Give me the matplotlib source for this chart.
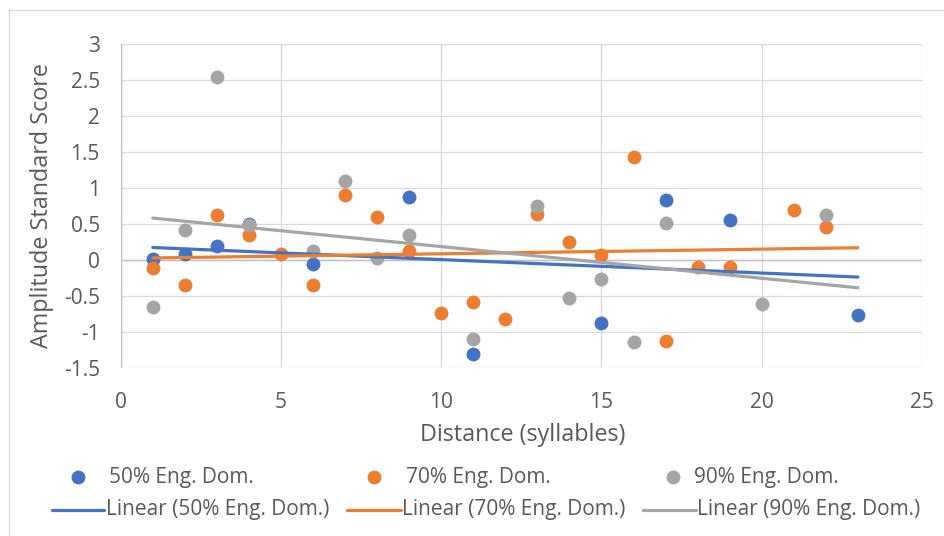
import numpy as np
import matplotlib
matplotlib.use("Agg")
import matplotlib.pyplot as plt
from matplotlib.lines import Line2D

# Distance (syllables) and amplitude standard scores per group
x_50 = [1, 2, 3, 4, 6, 9, 11, 15, 17, 19, 23]
y_50 = [0.01, 0.08, 0.20, 0.50, -0.05, 0.88, -1.30, -0.88, 0.83, 0.56, -0.77]

x_70 = [1, 2, 3, 4, 5, 6, 7, 8, 9, 10, 11, 12, 13, 14, 15, 16, 17, 18, 19, 21, 22]
y_70 = [-0.11, -0.35, 0.63, 0.35, 0.08, -0.35, 0.90, 0.60, 0.13, -0.73, -0.58,
        -0.82, 0.64, 0.25, 0.07, 1.43, -1.13, -0.10, -0.10, 0.69, 0.46]

x_90 = [1, 2, 3, 4, 6, 7, 8, 9, 11, 13, 14, 15, 16, 17, 20, 22]
y_90 = [-0.65, 0.42, 2.54, 0.49, 0.12, 1.10, 0.03, 0.35, -1.10, 0.75, -0.53,
        -0.27, -1.14, 0.51, -0.61, 0.62]

labels = ["50% Eng. Dom.", "70% Eng. Dom.", "90% Eng. Dom."]
colors = ["#4472C4", "#ED7D31", "#A5A5A5"]
trend_span = (1, 23)

x_ticks = [0, 5, 10, 15, 20, 25]
y_ticks = [-1.5, -1, -0.5, 0, 0.5, 1, 1.5, 2, 2.5, 3]
y_tick_labels = ["-1.5", "-1", "-0.5", "0", "0.5", "1", "1.5", "2", "2.5", "3"]

FONT = "Open Sans"
TXT = "#595959"
W, H = 945, 536
SMALL = 15
TITLE = 16.8

fig = plt.figure(figsize=(W / 100, H / 100), dpi=100)
fig.patch.set_facecolor("white")

# chart area border (left and top edges)
fig.add_artist(Line2D([9.5 / W, 9.5 / W], [0, 1 - 9.5 / H], transform=fig.transFigure,
                      color="#D9D9D9", lw=1.0))
fig.add_artist(Line2D([9.5 / W, 1], [1 - 9.5 / H, 1 - 9.5 / H], transform=fig.transFigure,
                      color="#D9D9D9", lw=1.0))

left, right = 120.7 / W, 922 / W
bottom, top = 1 - 368 / H, 1 - 44 / H
ax = fig.add_axes([left, bottom, right - left, top - bottom])
ax.set_xlim(0, 25)
ax.set_ylim(-1.5, 3)

for s in ax.spines.values():
    s.set_visible(False)

for t in x_ticks:
    ax.axvline(t, color="#D9D9D9", lw=0.9, zorder=0)
for t in y_ticks:
    ax.axhline(t, color="#D9D9D9", lw=0.9, zorder=0)
ax.axhline(0, color="#BFBFBF", lw=1.0, zorder=0.5)
ax.axvline(0, color="#BFBFBF", lw=1.0, zorder=0.5)

ax.set_xticks(x_ticks)
ax.set_xticklabels([str(t) for t in x_ticks])
ax.set_yticks(y_ticks)
ax.set_yticklabels(y_tick_labels)
ax.tick_params(length=0, labelsize=SMALL, labelcolor=TXT)
ax.tick_params(axis="y", pad=15)
ax.tick_params(axis="x", pad=17)
for lab in ax.get_xticklabels() + ax.get_yticklabels():
    lab.set_fontfamily(FONT)

series = [(x_50, y_50), (x_70, y_70), (x_90, y_90)]
for (xs, ys), c in zip(series, colors):
    ax.scatter(xs, ys, s=100, color=c, linewidths=0, zorder=2)

# least-squares linear trendlines
for (xs, ys), c in zip(series, colors):
    slope, intercept = np.polyfit(xs, ys, 1)
    xx = np.array(trend_span, dtype=float)
    ax.plot(xx, slope * xx + intercept, color=c, lw=2.3, solid_capstyle="round", zorder=3)

fig.text(523 / W, 1 - 435 / H, "Distance (syllables)", ha="center", va="center",
         fontsize=TITLE, color=TXT, family=FONT)
fig.text(42 / W, 1 - 206 / H, "Amplitude Standard Score", ha="center", va="center",
         rotation=90, fontsize=TITLE, color=TXT, family=FONT)

# legend
row1, row2 = 1 - 477 / H, 1 - 510 / H
marker_x = [78, 374, 673]
text1_x = [109, 406, 694]
line_x = [(52, 104), (347, 401), (643, 696)]
text2_x = [106, 402, 697]
for i, c in enumerate(colors):
    fig.add_artist(Line2D([marker_x[i] / W], [row1], transform=fig.transFigure,
                          marker="o", markersize=10, color=c, markeredgewidth=0, lw=0))
    fig.text(text1_x[i] / W, row1, labels[i], ha="left", va="center",
             fontsize=SMALL, color=TXT, family=FONT)
    x0, x1 = line_x[i]
    fig.add_artist(Line2D([x0 / W, x1 / W], [row2, row2], transform=fig.transFigure,
                          color=c, lw=2.3, solid_capstyle="round"))
    fig.text(text2_x[i] / W, row2, f"Linear ({labels[i]})", ha="left", va="center",
             fontsize=SMALL, color=TXT, family=FONT)

fig.savefig("out.png", dpi=100, facecolor="white")
